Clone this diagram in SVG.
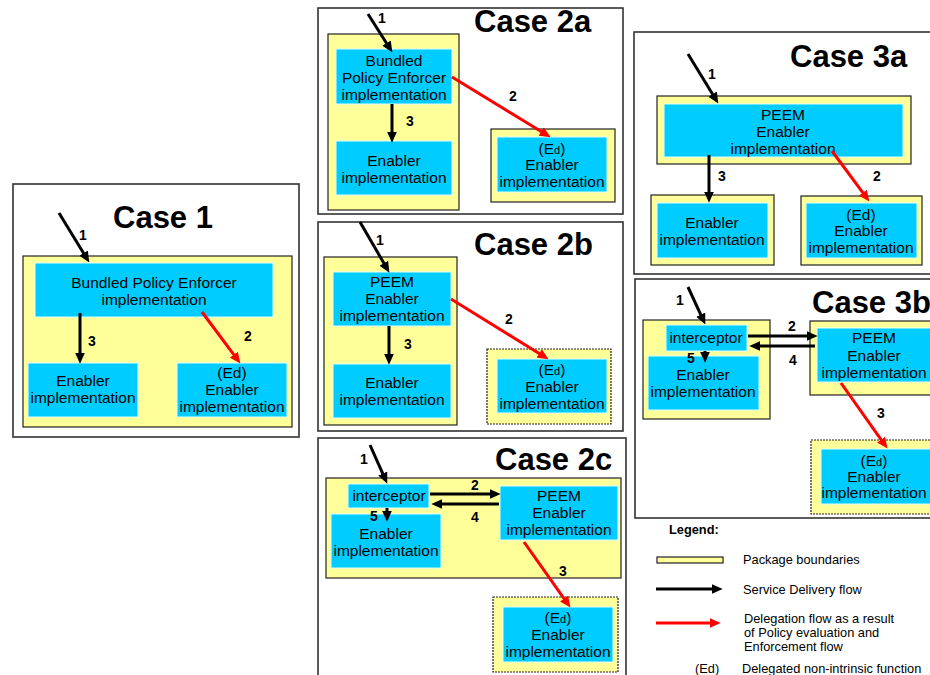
<svg xmlns="http://www.w3.org/2000/svg" width="930" height="675" viewBox="0 0 930 675">
<defs>
<style>
.frame{fill:#fff;stroke:#333;stroke-width:1.6}
.pkg{fill:#FFFF99;stroke:#222;stroke-width:1.2}
.pkgd{fill:#FFFF99;stroke:#222;stroke-width:1.2;stroke-dasharray:2 1}
.box{fill:#00CCFF;stroke:#DDFFFF;stroke-width:1}
.t{font-family:"Liberation Sans",Arial,sans-serif;font-size:15.5px;fill:#000;text-anchor:middle}
.sub{font-size:11px}
.title{font-family:"Liberation Sans",Arial,sans-serif;font-size:31px;font-weight:bold;fill:#000}
.num{font-family:"Liberation Sans",Arial,sans-serif;font-size:14px;font-weight:bold;fill:#000;text-anchor:middle}
.leg{font-family:"Liberation Sans",Arial,sans-serif;font-size:12.8px;fill:#000}
.blk{stroke:#000;stroke-width:3;fill:none;marker-end:url(#ab)}
.red{stroke:#FF0000;stroke-width:3;fill:none;marker-end:url(#ar)}
</style>
<marker id="ab" viewBox="0 0 10 10" markerWidth="11" markerHeight="11" markerUnits="userSpaceOnUse" refX="3" refY="5" orient="auto"><path d="M0,0.5 L10,5 L0,9.5 z" fill="#000"/></marker>
<marker id="ar" viewBox="0 0 10 10" markerWidth="11" markerHeight="11" markerUnits="userSpaceOnUse" refX="3" refY="5" orient="auto"><path d="M0,0.5 L10,5 L0,9.5 z" fill="#FF0000"/></marker>
</defs>
<rect width="930" height="675" fill="#fff"/>

<!-- Case frames -->
<g id="case1">
<rect class="frame" x="13" y="184" width="286" height="253"/>
<text class="title" x="113" y="228">Case 1</text>
<rect class="pkg" x="23" y="256" width="269" height="171"/>
</g>
<g id="case2a">
<rect class="frame" x="318" y="8" width="305" height="206"/>
<text class="title" x="474" y="32">Case 2a</text>
<rect class="pkg" x="328" y="34" width="131" height="176"/>
<rect class="pkg" x="491" y="129" width="124" height="73"/>
</g>
<g id="case2b">
<rect class="frame" x="318" y="222" width="305" height="209"/>
<text class="title" x="474" y="255">Case 2b</text>
<rect class="pkg" x="324" y="257" width="133" height="168"/>
<rect class="pkgd" x="487" y="349" width="124" height="75"/>
</g>
<g id="case2c">
<rect class="frame" x="318" y="438" width="308" height="250"/>
<text class="title" x="495" y="470">Case 2c</text>
<rect class="pkg" x="326" y="478" width="295" height="100"/>
<rect class="pkgd" x="493" y="597" width="125" height="75"/>
</g>
<g id="case3a">
<rect class="frame" x="634" y="32" width="310" height="242"/>
<text class="title" x="790" y="67">Case 3a</text>
<rect class="pkg" x="657" y="96" width="254" height="68"/>
<rect class="pkg" x="651" y="195" width="123" height="70"/>
<rect class="pkg" x="801" y="196" width="121" height="69"/>
</g>
<g id="case3b">
<rect class="frame" x="635" y="279" width="310" height="239"/>
<text class="title" x="812" y="313">Case 3b</text>
<rect class="pkg" x="643" y="320" width="127" height="99"/>
<rect class="pkg" x="810" y="321" width="130" height="74"/>
<rect class="pkgd" x="811" y="440" width="130" height="74"/>
</g>

<!-- Case 1 nodes -->
<g id="c1-bpe"><rect class="box" x="35" y="263" width="238" height="54"/>
<text class="t" x="154" y="288">Bundled Policy Enforcer</text><text class="t" x="154" y="305">implementation</text></g>
<g id="c1-enabler"><rect class="box" x="28" y="363" width="110" height="54"/>
<text class="t" x="83" y="386">Enabler</text><text class="t" x="83" y="403">implementation</text></g>
<g id="c1-ed"><rect class="box" x="177" y="363" width="110" height="54"/>
<text class="t" x="232" y="378">(Ed)</text><text class="t" x="232" y="395">Enabler</text><text class="t" x="232" y="412">implementation</text></g>

<!-- Case 2a nodes -->
<g id="c2a-bpe"><rect class="box" x="336" y="49" width="116" height="55"/>
<text class="t" x="394" y="66">Bundled</text><text class="t" x="394" y="83">Policy Enforcer</text><text class="t" x="394" y="100">implementation</text></g>
<g id="c2a-enabler"><rect class="box" x="336" y="141" width="116" height="54"/>
<text class="t" x="394" y="166">Enabler</text><text class="t" x="394" y="183">implementation</text></g>
<g id="c2a-ed"><rect class="box" x="497" y="137" width="110" height="55"/>
<text class="t" x="552" y="154">(E<tspan class="sub">d</tspan>)</text><text class="t" x="552" y="170">Enabler</text><text class="t" x="552" y="187">implementation</text></g>

<!-- Case 2b nodes -->
<g id="c2b-peem"><rect class="box" x="333" y="272" width="118" height="54"/>
<text class="t" x="392" y="287">PEEM</text><text class="t" x="392" y="304">Enabler</text><text class="t" x="392" y="321">implementation</text></g>
<g id="c2b-enabler"><rect class="box" x="333" y="364" width="118" height="54"/>
<text class="t" x="392" y="388">Enabler</text><text class="t" x="392" y="405">implementation</text></g>
<g id="c2b-ed"><rect class="box" x="497" y="359" width="110" height="54"/>
<text class="t" x="552" y="375">(E<tspan class="sub">d</tspan>)</text><text class="t" x="552" y="392">Enabler</text><text class="t" x="552" y="409">implementation</text></g>

<!-- Case 2c nodes -->
<g id="c2c-interceptor"><rect class="box" x="348" y="484" width="81" height="24"/>
<text class="t" x="389" y="501">interceptor</text></g>
<g id="c2c-enabler"><rect class="box" x="331" y="514" width="110" height="54"/>
<text class="t" x="386" y="539">Enabler</text><text class="t" x="386" y="556">implementation</text></g>
<g id="c2c-peem"><rect class="box" x="500" y="486" width="118" height="54"/>
<text class="t" x="559" y="501">PEEM</text><text class="t" x="559" y="518">Enabler</text><text class="t" x="559" y="535">implementation</text></g>
<g id="c2c-ed"><rect class="box" x="503" y="607" width="110" height="55"/>
<text class="t" x="558" y="623">(E<tspan class="sub">d</tspan>)</text><text class="t" x="558" y="640">Enabler</text><text class="t" x="558" y="657">implementation</text></g>

<!-- Case 3a nodes -->
<g id="c3a-peem"><rect class="box" x="664" y="104" width="239" height="53"/>
<text class="t" x="783" y="120">PEEM</text><text class="t" x="783" y="137">Enabler</text><text class="t" x="783" y="154">implementation</text></g>
<g id="c3a-enabler"><rect class="box" x="657" y="203" width="111" height="55"/>
<text class="t" x="712" y="228">Enabler</text><text class="t" x="712" y="245">implementation</text></g>
<g id="c3a-ed"><rect class="box" x="806" y="203" width="111" height="55"/>
<text class="t" x="861" y="220">(Ed)</text><text class="t" x="861" y="236">Enabler</text><text class="t" x="861" y="253">implementation</text></g>

<!-- Case 3b nodes -->
<g id="c3b-interceptor"><rect class="box" x="666" y="325" width="81" height="26"/>
<text class="t" x="706" y="343">interceptor</text></g>
<g id="c3b-enabler"><rect class="box" x="648" y="356" width="111" height="54"/>
<text class="t" x="703" y="380">Enabler</text><text class="t" x="703" y="397">implementation</text></g>
<g id="c3b-peem"><rect class="box" x="817" y="328" width="120" height="54"/>
<text class="t" x="874" y="343">PEEM</text><text class="t" x="874" y="361">Enabler</text><text class="t" x="874" y="378">implementation</text></g>
<g id="c3b-ed"><rect class="box" x="821" y="449" width="120" height="55"/>
<text class="t" x="874" y="466">(E<tspan class="sub">d</tspan>)</text><text class="t" x="874" y="482">Enabler</text><text class="t" x="874" y="498">implementation</text></g>

<!-- Connectors -->
<g id="connectors">
<line class="blk" x1="59" y1="213" x2="85.3" y2="256"/>
<line class="blk" x1="80" y1="313" x2="80" y2="356"/>
<line class="red" x1="202" y1="312" x2="235.8" y2="357.4"/>

<line class="blk" x1="368" y1="14" x2="388.3" y2="46"/>
<line class="blk" x1="392" y1="104" x2="392" y2="135"/>
<line class="red" x1="452" y1="77" x2="544" y2="133.3"/>

<line class="blk" x1="360" y1="222" x2="385.5" y2="266"/>
<line class="blk" x1="389" y1="326" x2="389" y2="357"/>
<line class="red" x1="451" y1="299" x2="542" y2="355.3"/>

<line class="blk" x1="370" y1="445" x2="384.1" y2="476.6"/>
<line class="blk" x1="430" y1="494" x2="493" y2="494"/>
<line class="blk" x1="499" y1="504" x2="439" y2="504"/>
<line class="blk" x1="387" y1="508" x2="387" y2="514"/>
<line class="red" x1="524" y1="542" x2="566" y2="601.3"/>

<line class="blk" x1="688" y1="54" x2="714.3" y2="97"/>
<line class="blk" x1="709" y1="155" x2="709" y2="195"/>
<line class="red" x1="832" y1="151" x2="864.8" y2="195.4"/>

<line class="blk" x1="688" y1="287" x2="702.1" y2="317.6"/>
<line class="blk" x1="748" y1="336" x2="810" y2="336"/>
<line class="blk" x1="815" y1="346" x2="757" y2="346"/>
<line class="blk" x1="705" y1="351" x2="705" y2="355"/>
<line class="red" x1="841" y1="383" x2="883" y2="442.3"/>

<text class="num" x="83" y="240">1</text>
<text class="num" x="92" y="346">3</text>
<text class="num" x="248" y="341">2</text>
<text class="num" x="382" y="23">1</text>
<text class="num" x="410" y="126">3</text>
<text class="num" x="513" y="101">2</text>
<text class="num" x="380" y="245">1</text>
<text class="num" x="408" y="349">3</text>
<text class="num" x="509" y="324">2</text>
<text class="num" x="364" y="464">1</text>
<text class="num" x="475" y="490">2</text>
<text class="num" x="475" y="522">4</text>
<text class="num" x="374" y="521">5</text>
<text class="num" x="563" y="576">3</text>
<text class="num" x="712" y="79">1</text>
<text class="num" x="722" y="181">3</text>
<text class="num" x="877" y="181">2</text>
<text class="num" x="680" y="305">1</text>
<text class="num" x="792" y="331">2</text>
<text class="num" x="793" y="365">4</text>
<text class="num" x="691" y="363">5</text>
<text class="num" x="881" y="418">3</text>
</g>

<!-- Legend -->
<g id="legend">
<text class="leg" x="669" y="534" font-weight="bold">Legend:</text>
<rect class="pkg" x="657" y="557" width="66" height="6"/>
<text class="leg" x="743" y="564">Package boundaries</text>
<line class="blk" x1="656" y1="589" x2="715" y2="589"/>
<text class="leg" x="743" y="594">Service Delivery flow</text>
<line class="red" x1="656" y1="623" x2="713" y2="623"/>
<text class="leg" x="744" y="623">Delegation flow as a result</text>
<text class="leg" x="744" y="637">of Policy evaluation and</text>
<text class="leg" x="744" y="651">Enforcement flow</text>
<text class="leg" x="695" y="673">(Ed)</text>
<text class="leg" x="742" y="673">Delegated non-intrinsic function</text>
</g>
</svg>
